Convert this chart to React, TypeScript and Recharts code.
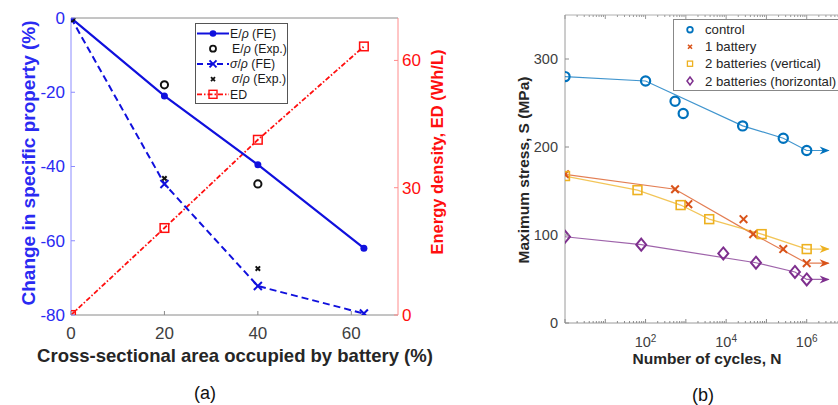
import React from 'react';
import { ScatterChart, Scatter, XAxis, YAxis, Label, Legend, ReferenceLine } from 'recharts';

const FONT = '"Liberation Sans", Arial, Helvetica, sans-serif';

// (a) change in specific property vs. battery area fraction
const areaPct = [0, 20, 40, 62.7];
const eRhoFE = [0, -21, -39.5, -62];
const eRhoExpArea = [0, 20, 40];
const eRhoExp = [0, -18, -44.7];
const sRhoFE = [0, -44.7, -72.2, -79.6];
const sRhoExpArea = [20, 40];
const sRhoExp = [-43.2, -67.5];
const energyDensity = [0, 20.5, 41.3, 63.3];
const areaTicks = [0, 20, 40, 60];
const propertyTicks = [-80, -60, -40, -20, 0];
const edTicks = [0, 30, 60];

// (b) S-N data, N in cycles, S in MPa
const controlN = [1, 100, 540, 860, 25700, 262000, 1e6];
const controlS = [280, 275, 252, 238, 224, 210, 196];
const oneBattN = [1, 540, 1150, 27000, 47000, 262000, 1e6];
const oneBattS = [169, 152, 135, 118, 101, 84, 68];
const vertN = [1, 63, 740, 3800, 76000, 1e6];
const vertS = [167, 151, 134, 118, 101, 84];
const horizN = [1, 78, 8500, 55000, 510000, 1e6];
const horizS = [98, 89, 79, 68.5, 58, 49.5];

// fitted curves, last point is the run-out arrow tip
const controlFitN = [1, 100, 25700, 262000, 1e6, 3.5e6];
const controlFitS = [280, 275, 224, 210, 196, 196];
const oneBattFitN = [1, 540, 47000, 1e6, 3.5e6];
const oneBattFitS = [169, 152, 101, 68, 68];
const vertFitN = [1, 63, 740, 3800, 76000, 1e6, 3.5e6];
const vertFitS = [167, 151, 134, 118, 101, 84, 84];
const horizFitN = [1, 78, 55000, 510000, 1e6, 3.5e6];
const horizFitS = [98, 89, 68.5, 58, 49.5, 49.5];

const stressTicks = [0, 100, 200, 300];
const labeledDecades = [1e2, 1e4, 1e6];

const toRows = (xs: number[], ys: number[]) => xs.map((x, i) => ({ x, y: ys[i] }));
const lastRow = (xs: number[], ys: number[]) => [{ x: xs[xs.length - 1], y: ys[ys.length - 1] }];

const cycleTicks: number[] = [];
for (let d = 1; d <= 1e6; d *= 10) for (let k = 1; k <= 9; k++) cycleTicks.push(k * d);
cycleTicks.push(1e7);

const BLUE = '#1010dd';
const BLUE_TXT = '#2a2af2';
const RED = '#ff0f0f';
const C_CTRL = '#0072BD';
const C_ONE = '#D95319';
const C_VERT = '#EDB120';
const C_HOR = '#7E2F8E';

// marker shapes
const dotShape = (color: string, r: number) => (p: any) => <circle cx={p.cx} cy={p.cy} r={r} fill={color} />;
const ringShape = (color: string, r: number, w: number) => (p: any) => (
  <circle cx={p.cx} cy={p.cy} r={r} fill="none" stroke={color} strokeWidth={w} />
);
const crossShape = (color: string, s: number, w: number) => (p: any) => (
  <g stroke={color} strokeWidth={w}>
    <line x1={p.cx - s} y1={p.cy - s} x2={p.cx + s} y2={p.cy + s} />
    <line x1={p.cx - s} y1={p.cy + s} x2={p.cx + s} y2={p.cy - s} />
  </g>
);
const squareShape = (color: string, s: number, w: number) => (p: any) => (
  <rect x={p.cx - s} y={p.cy - s} width={2 * s} height={2 * s} fill="none" stroke={color} strokeWidth={w} />
);
const diamondShape = (color: string, w: number, h: number, sw: number) => (p: any) => (
  <polygon
    points={`${p.cx},${p.cy - h} ${p.cx + w},${p.cy} ${p.cx},${p.cy + h} ${p.cx - w},${p.cy}`}
    fill="none"
    stroke={color}
    strokeWidth={sw}
  />
);
const arrowShape = (color: string) => (p: any) => (
  <polygon
    points={`${p.cx + 1},${p.cy} ${p.cx - 9},${p.cy - 4} ${p.cx - 6},${p.cy} ${p.cx - 9},${p.cy + 4}`}
    fill={color}
  />
);
const noShape = () => <g />;

// ticks drawn inward, MATLAB style
const LeftTickA = ({ x, y, payload }: any) => (
  <g>
    <line x1={x + 6} x2={x + 10} y1={y} y2={y} stroke="#8c8cff" />
    <text x={x} y={y} dy="0.35em" textAnchor="end" fill={BLUE_TXT} fontSize={17} fontFamily={FONT}>
      {payload.value}
    </text>
  </g>
);
const RightTickA = ({ x, y, payload }: any) => (
  <g>
    <line x1={x - 4} x2={x - 8} y1={y} y2={y} stroke="#ff8c8c" />
    <text x={x} y={y} dy="0.35em" textAnchor="start" fill={RED} fontSize={17} fontFamily={FONT}>
      {payload.value}
    </text>
  </g>
);
const BottomTickA = ({ x, y, payload }: any) => (
  <g>
    <line x1={x} x2={x} y1={y - 12} y2={y - 16} stroke="#8a8a8a" />
    <text x={x} y={y} dy="0.71em" textAnchor="middle" fill="#404040" fontSize={17} fontFamily={FONT}>
      {payload.value}
    </text>
  </g>
);
const LeftTickB = ({ x, y, payload }: any) => (
  <g>
    <line x1={x + 7} x2={x + 11} y1={y} y2={y} stroke="#8a8a8a" />
    <text x={x} y={y} dy="0.35em" textAnchor="end" fill="#404040" fontSize={14.5} fontFamily={FONT}>
      {payload.value}
    </text>
  </g>
);
const CycleTick = ({ x, y, payload }: any) => {
  const v = payload.value;
  const lg = Math.log10(v);
  const exp = Math.round(lg);
  const major = Math.abs(lg - exp) < 1e-9;
  const len = major ? 4 : 2;
  const axisY = y - 14;
  return (
    <g>
      <line x1={x} x2={x} y1={axisY} y2={axisY - len} stroke="#8a8a8a" />
      <line x1={x} x2={x} y1={15} y2={15 + len} stroke="#9a9a9a" />
      {labeledDecades.includes(v) && (
        <text x={x} y={y} dy="0.71em" textAnchor="middle" fill="#404040" fontSize={14.5} fontFamily={FONT}>
          10
          <tspan dy="-0.5em" fontSize={10}>
            {exp}
          </tspan>
        </text>
      )}
    </g>
  );
};

const title = (x: number, y: number, text: string, opts: { angle?: number; size: number; color: string; bold?: boolean }) => () => (
  <text
    x={x}
    y={y}
    dy="0.35em"
    textAnchor="middle"
    transform={opts.angle ? `rotate(${opts.angle}, ${x}, ${y})` : undefined}
    fill={opts.color}
    fontSize={opts.size}
    fontWeight={opts.bold ? 'bold' : 'normal'}
    fontFamily={FONT}
  >
    {text}
  </text>
);

const LegendA = () => {
  const rows = [10.5, 25.7, 40.9, 56.1, 71.3];
  const txt = { fontSize: 12.3, fontFamily: FONT, fill: '#1a1a1a' };
  return (
    <svg width={94} height={82} style={{ display: 'block' }}>
      <rect x={0.5} y={0.5} width={92} height={80} fill="#fff" stroke="#555" />
      <line x1={2} x2={34} y1={rows[0]} y2={rows[0]} stroke={BLUE} strokeWidth={2} />
      <circle cx={18} cy={rows[0]} r={3.3} fill={BLUE} />
      <circle cx={18} cy={rows[1]} r={3} fill="none" stroke="#111" strokeWidth={1.8} />
      <line x1={2} x2={34} y1={rows[2]} y2={rows[2]} stroke={BLUE} strokeWidth={2} strokeDasharray="6 4" />
      {crossShape(BLUE, 3.5, 2)({ cx: 18, cy: rows[2] })}
      {crossShape('#111', 2, 1.8)({ cx: 18, cy: rows[3] })}
      <line x1={2} x2={34} y1={rows[4]} y2={rows[4]} stroke={RED} strokeWidth={1.8} strokeDasharray="5 2 1.5 2" />
      {squareShape(RED, 4, 1.4)({ cx: 18, cy: rows[4] })}
      <text x={35} y={rows[0]} dy="0.35em" {...txt}>E/<tspan fontStyle="italic">ρ</tspan> (FE)</text>
      <text x={37} y={rows[1]} dy="0.35em" {...txt}>E/<tspan fontStyle="italic">ρ</tspan> (Exp.)</text>
      <text x={35} y={rows[2]} dy="0.35em" {...txt}><tspan fontStyle="italic">σ</tspan>/<tspan fontStyle="italic">ρ</tspan> (FE)</text>
      <text x={37} y={rows[3]} dy="0.35em" {...txt}><tspan fontStyle="italic">σ</tspan>/<tspan fontStyle="italic">ρ</tspan> (Exp.)</text>
      <text x={35} y={rows[4]} dy="0.35em" {...txt}>ED</text>
    </svg>
  );
};

const LegendB = () => {
  const rows = [10.7, 27.8, 44.7, 62];
  const txt = { fontSize: 13.2, fontFamily: FONT, fill: '#262626' };
  return (
    <svg width={180} height={73} style={{ display: 'block' }}>
      <rect x={0.5} y={0.5} width={200} height={71} fill="#fff" stroke="#888" />
      {ringShape(C_CTRL, 2.8, 1.8)({ cx: 17, cy: rows[0] })}
      {crossShape(C_ONE, 2, 1.6)({ cx: 17, cy: rows[1] })}
      {squareShape(C_VERT, 2.6, 1.3)({ cx: 17, cy: rows[2] })}
      {diamondShape(C_HOR, 3, 4, 1.5)({ cx: 17, cy: rows[3] })}
      <text x={32} y={rows[0]} dy="0.35em" {...txt}>control</text>
      <text x={32} y={rows[1]} dy="0.35em" {...txt}>1 battery</text>
      <text x={32} y={rows[2]} dy="0.35em" {...txt}>2 batteries (vertical)</text>
      <text x={32} y={rows[3]} dy="0.35em" {...txt}>2 batteries (horizontal)</text>
    </svg>
  );
};

const fitLine = (color: string) => ({ stroke: color, strokeWidth: 1.2, strokeOpacity: 0.75 });

export default function App() {
  return (
    <div style={{ position: 'fixed', left: 0, top: 0, width: 838, height: 405, overflow: 'hidden', background: '#fff', fontFamily: FONT }}>
      <div style={{ position: 'absolute', left: 0, top: 0 }}>
        <ScatterChart width={470} height={405} margin={{ top: 18, right: 0, bottom: 0, left: 0 }}>
          <XAxis
            type="number"
            dataKey="x"
            domain={[0, 70]}
            ticks={areaTicks}
            interval={0}
            height={90}
            tickSize={0}
            tickMargin={12}
            tick={BottomTickA}
            axisLine={{ stroke: '#8a8a8a' }}
            allowDataOverflow
          >
            <Label content={title(235, 356, 'Cross-sectional area occupied by battery (%)', { size: 18.5, color: '#262626', bold: true })} />
            <Label content={title(205, 393, '(a)', { size: 18, color: '#111' })} />
          </XAxis>
          <YAxis
            yAxisId="left"
            type="number"
            dataKey="y"
            domain={[-80, 0]}
            ticks={propertyTicks}
            interval={0}
            width={71}
            tickSize={0}
            tickMargin={6}
            tick={LeftTickA}
            axisLine={{ stroke: '#8c8cff' }}
            allowDataOverflow
          >
            <Label content={title(28, 163, 'Change in specific property (%)', { angle: -90, size: 19, color: BLUE_TXT, bold: true })} />
          </YAxis>
          <YAxis
            yAxisId="right"
            orientation="right"
            type="number"
            dataKey="y"
            domain={[0, 70]}
            ticks={edTicks}
            interval={0}
            width={72}
            tickSize={0}
            tickMargin={4}
            tick={RightTickA}
            axisLine={{ stroke: '#ff8c8c' }}
            allowDataOverflow
          >
            <Label content={title(437, 152, 'Energy density, ED (Wh/L)', { angle: -90, size: 16.5, color: RED, bold: true })} />
          </YAxis>
          <ReferenceLine yAxisId="left" y={0} stroke="#8a8a8a" />
          <Scatter
            yAxisId="right"
            data={toRows(areaPct, energyDensity)}
            line={{ stroke: RED, strokeWidth: 1.8, strokeDasharray: '5 2 1.5 2' }}
            shape={squareShape(RED, 4.3, 1.5)}
            isAnimationActive={false}
          />
          <Scatter
            yAxisId="left"
            data={toRows(areaPct, sRhoFE)}
            line={{ stroke: BLUE, strokeWidth: 2, strokeDasharray: '7 4' }}
            shape={crossShape(BLUE, 4, 2)}
            isAnimationActive={false}
          />
          <Scatter
            yAxisId="left"
            data={toRows(areaPct, eRhoFE)}
            line={{ stroke: BLUE, strokeWidth: 2.2 }}
            shape={dotShape(BLUE, 3.5)}
            isAnimationActive={false}
          />
          <Scatter yAxisId="left" data={toRows(eRhoExpArea, eRhoExp)} shape={ringShape('#111', 3.6, 2)} isAnimationActive={false} />
          <Scatter yAxisId="left" data={toRows(sRhoExpArea, sRhoExp)} shape={crossShape('#111', 2.2, 2)} isAnimationActive={false} />
          <Legend
            layout="vertical"
            align="center"
            verticalAlign="middle"
            content={LegendA}
            wrapperStyle={{ left: 195, top: 23, width: 94, height: 82 }}
          />
        </ScatterChart>
      </div>

      <div style={{ position: 'absolute', left: 440, top: 0 }}>
        <ScatterChart width={420} height={405} margin={{ top: 15, right: 13, bottom: 0, left: 0 }}>
          <XAxis
            type="number"
            dataKey="x"
            scale="log"
            domain={[1, 1e7]}
            ticks={cycleTicks}
            interval={0}
            height={82}
            tickSize={0}
            tickMargin={14}
            tick={CycleTick}
            axisLine={{ stroke: '#9a9a9a' }}
            allowDataOverflow
          >
            <Label content={title(267, 359, 'Number of cycles, N', { size: 15.5, color: '#262626', bold: true })} />
            <Label content={title(263, 395, '(b)', { size: 18, color: '#111' })} />
          </XAxis>
          <YAxis
            type="number"
            dataKey="y"
            domain={[0, 350]}
            ticks={stressTicks}
            interval={0}
            width={125}
            tickSize={0}
            tickMargin={7}
            tick={LeftTickB}
            axisLine={{ stroke: '#9a9a9a' }}
            allowDataOverflow
          >
            <Label content={title(84, 170, 'Maximum stress, S (MPa)', { angle: -90, size: 15.5, color: '#262626', bold: true })} />
          </YAxis>
          <ReferenceLine y={350} stroke="#b0b0b0" />

          <Scatter data={toRows(controlFitN, controlFitS)} line={fitLine(C_CTRL)} shape={noShape} isAnimationActive={false} />
          <Scatter data={toRows(oneBattFitN, oneBattFitS)} line={fitLine(C_ONE)} shape={noShape} isAnimationActive={false} />
          <Scatter data={toRows(vertFitN, vertFitS)} line={fitLine(C_VERT)} shape={noShape} isAnimationActive={false} />
          <Scatter data={toRows(horizFitN, horizFitS)} line={fitLine(C_HOR)} shape={noShape} isAnimationActive={false} />

          <Scatter data={lastRow(controlFitN, controlFitS)} shape={arrowShape(C_CTRL)} isAnimationActive={false} />
          <Scatter data={lastRow(oneBattFitN, oneBattFitS)} shape={arrowShape(C_ONE)} isAnimationActive={false} />
          <Scatter data={lastRow(vertFitN, vertFitS)} shape={arrowShape(C_VERT)} isAnimationActive={false} />
          <Scatter data={lastRow(horizFitN, horizFitS)} shape={arrowShape(C_HOR)} isAnimationActive={false} />

          <Scatter data={toRows(controlN, controlS)} shape={ringShape(C_CTRL, 4.6, 2.2)} isAnimationActive={false} />
          <Scatter data={toRows(oneBattN, oneBattS)} shape={crossShape(C_ONE, 3.8, 2)} isAnimationActive={false} />
          <Scatter data={toRows(vertN, vertS)} shape={squareShape(C_VERT, 4.4, 1.6)} isAnimationActive={false} />
          <Scatter data={toRows(horizN, horizS)} shape={diamondShape(C_HOR, 5, 6, 2)} isAnimationActive={false} />

          <Legend
            layout="vertical"
            align="center"
            verticalAlign="middle"
            content={LegendB}
            wrapperStyle={{ left: 233, top: 19, width: 180, height: 73 }}
          />
        </ScatterChart>
      </div>
    </div>
  );
}
